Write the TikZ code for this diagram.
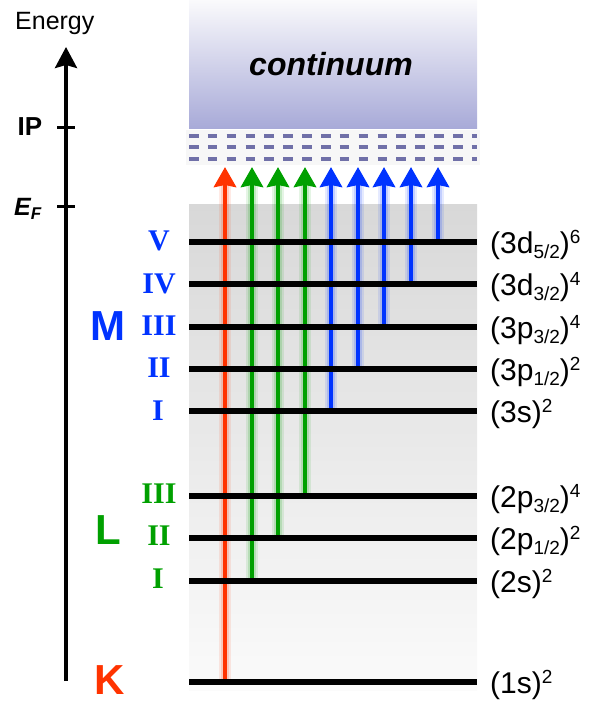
\documentclass[tikz,border=0pt]{standalone}
\usepackage{fontspec}
\setmainfont{Liberation Sans}
\newfontfamily\romanfont{Liberation Serif}
\usetikzlibrary{arrows.meta}
\definecolor{kred}{RGB}{255,51,0}
\definecolor{lgreen}{RGB}{0,160,0}
\definecolor{mblue}{RGB}{0,51,255}
\definecolor{dashc}{RGB}{112,112,168}
\definecolor{contbot}{RGB}{168,170,216}
\definecolor{conttop}{RGB}{250,250,252}
\definecolor{boxtop}{RGB}{216,216,216}
\definecolor{boxbot}{RGB}{251,251,251}
\newcommand{\lsb}[1]{\raisebox{-5pt}{\fontsize{19}{19}\selectfont #1}}
\newcommand{\lsp}[1]{\raisebox{10pt}{\fontsize{19}{19}\selectfont #1}}
\begin{document}
\begin{tikzpicture}[x=1pt,y=-1pt,
  levelline/.style={line width=5.5pt},
  conf/.style={anchor=base west, font=\fontsize{30}{30}\selectfont, inner sep=0pt},
  roman/.style={font=\romanfont\bfseries\fontsize{30}{30}\selectfont, inner sep=0pt},
  shell/.style={font=\bfseries\fontsize{42}{42}\selectfont, inner sep=0pt},
  exc/.style={line width=4.5pt, -{Stealth[length=20pt,width=22pt,inset=2pt]}},
  glowA/.style={line width=12pt, opacity=0.1},
  glowB/.style={line width=8pt, opacity=0.15},
  dashrow/.style={dashc, line width=4pt, dash pattern=on 9.5pt off 9.36pt},
  tick/.style={line width=3pt}]
\useasboundingbox (0,0) rectangle (593,702);

% continuum
\shade[top color=conttop, bottom color=contbot] (189,0) rectangle (477,128);
\node[font=\bfseries\itshape\fontsize{32}{32}\selectfont, anchor=base, inner sep=0pt] (cont) at (331,75) {continuum};

% dashed band
\fill[black!3] (186,130) rectangle (480,165);
\foreach \yy/\nm in {136/a,147/b,159/c}{
  \coordinate (d\nm w) at (189,\yy);
  \coordinate (d\nm e) at (477,\yy);
  \draw[dashrow] (d\nm w) -- (d\nm e);
}

% gray box
\shade[top color=boxtop, bottom color=boxbot] (189,204) rectangle (477,690);

% axis
\coordinate (axB) at (66,681);
\coordinate (axT) at (66,47);
\draw[line width=3.5pt, -{Stealth[length=21pt,width=22pt,inset=3pt]}] (axB) -- (axT);
\node[anchor=base west, inner sep=0pt, font=\fontsize{25}{25}\selectfont] (energy) at (15,29) {Energy};
\coordinate (ipL) at (57,127); \coordinate (ipR) at (75,127);
\draw[tick] (ipL) -- (ipR);
\coordinate (efL) at (57,206); \coordinate (efR) at (75,206);
\draw[tick] (efL) -- (efR);
\node[font=\bfseries\fontsize{26}{26}\selectfont, inner sep=0pt] (ip) at (30,127) {IP};
\node[font=\bfseries\itshape\fontsize{25}{25}\selectfont, inner sep=0pt, anchor=base west] (ef) at (14,215) {E\raisebox{-4pt}{\fontsize{17}{17}\selectfont F}};

% arrow endpoints
\foreach \nm/\xx/\yy in {K/225/682, LI/252/581, LII/278/538, LIII/305/496,
  MI/331/411, MII/358/369, MIII/384/327, MIV/411/284, MV/438/242}{
  \coordinate (\nm b) at (\xx,\yy);
  \coordinate (\nm t) at (\xx,167);
  \coordinate (\nm g) at (\xx,180);
}
% glows
\foreach \nm/\cc in {K/kred, LI/lgreen, LII/lgreen, LIII/lgreen, MI/mblue, MII/mblue, MIII/mblue, MIV/mblue, MV/mblue}{
  \draw[glowA, \cc] (\nm b) -- (\nm g);
  \draw[glowB, \cc] (\nm b) -- (\nm g);
}
% arrows
\foreach \nm/\cc in {K/kred, LI/lgreen, LII/lgreen, LIII/lgreen, MI/mblue, MII/mblue, MIII/mblue, MIV/mblue, MV/mblue}{
  \draw[exc, \cc] (\nm b) -- (\nm t);
}

% levels
\foreach \nm/\yy in {MV/242, MIV/284, MIII/327, MII/369, MI/411, LIII/496, LII/538, LI/581, K/682}{
  \coordinate (\nm w) at (189,\yy);
  \coordinate (\nm e) at (477,\yy);
  \draw[levelline] (\nm w) -- (\nm e);
}

% roman labels
\node[roman, mblue] (rMV) at (159,241) {V};
\node[roman, mblue] (rMIV) at (159,284) {IV};
\node[roman, mblue] (rMIII) at (159,326) {III};
\node[roman, mblue] (rMII) at (159,368) {II};
\node[roman, mblue] (rMI) at (158,411) {I};
\node[roman, lgreen] (rLIII) at (159,494) {III};
\node[roman, lgreen] (rLII) at (159,536) {II};
\node[roman, lgreen] (rLI) at (158,579) {I};

% shell labels
\node[shell, mblue] (shM) at (107.5,326) {M};
\node[shell, lgreen] (shL) at (108,530) {L};
\node[shell, kred] (shK) at (109.5,680) {K};

% configurations
\node[conf] (cMV) at (490,253) {(3d\lsb{5/2})\lsp{6}};
\node[conf] (cMIV) at (490,295) {(3d\lsb{3/2})\lsp{4}};
\node[conf] (cMIII) at (490,338) {(3p\lsb{3/2})\lsp{4}};
\node[conf] (cMII) at (490,380) {(3p\lsb{1/2})\lsp{2}};
\node[conf] (cMI) at (490,422) {(3s)\lsp{2}};
\node[conf] (cLIII) at (490,507) {(2p\lsb{3/2})\lsp{4}};
\node[conf] (cLII) at (490,549) {(2p\lsb{1/2})\lsp{2}};
\node[conf] (cLI) at (490,592) {(2s)\lsp{2}};
\node[conf] (cK) at (490,693) {(1s)\lsp{2}};
\end{tikzpicture}
\end{document}
